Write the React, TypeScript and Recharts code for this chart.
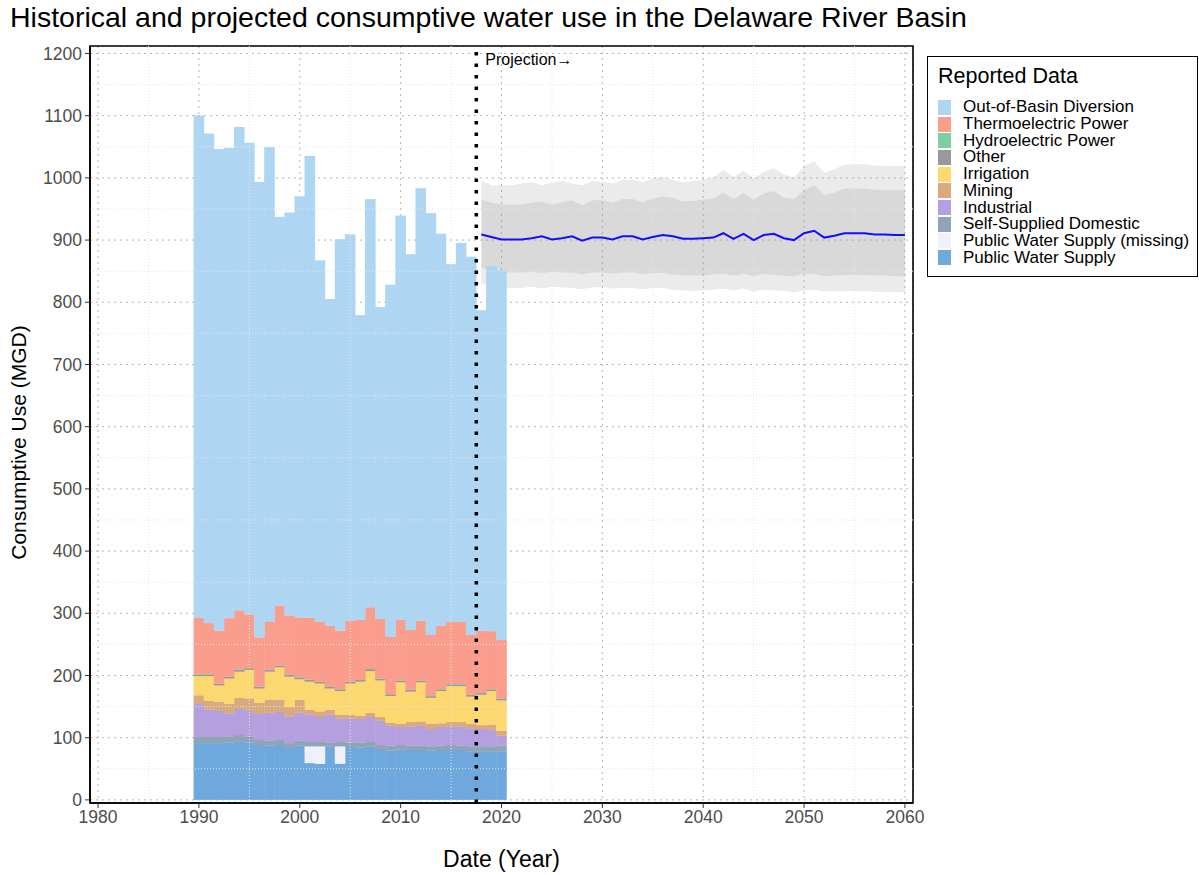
import React from 'react';
import { ComposedChart, Bar, Area, Line, XAxis, YAxis, CartesianGrid, ReferenceLine, ReferenceArea, Label } from 'recharts';

// ---------- Reported (historical) data, MGD ----------
const histYears = [1990,1991,1992,1993,1994,1995,1996,1997,1998,1999,2000,2001,2002,2003,2004,2005,2006,2007,2008,2009,2010,2011,2012,2013,2014,2015,2016,2017,2018,2019,2020];
const publicWaterSupply = [91,91,91,92,94,92,88,87,88,83,87,59,58,86,58,85,84,86,80,79,81,80,80,79,80,80,80,78,78,78,78];
const publicWaterSupplyMissing = [0,0,0,0,0,0,0,0,0,0,0,27,28,0,28,0,0,0,0,0,0,0,0,0,0,0,0,0,0,0,0];
const selfSuppliedDomestic = [10,10,10,10,10,10,8,8,8,8,8,7,7,6,7,7,8,7,8,8,7,7,7,7,7,8,7,8,8,8,9];
const industrial = [53,44,42,37,42,41,42,45,45,43,45,44,40,45,38,39,38,40,39,32,29,31,32,28,30,30,31,29,28,26,16];
const mining = [14,14,15,15,18,20,18,21,20,15,21,8,9,8,6,6,5,7,6,5,5,7,7,8,6,7,7,7,6,9,8];
const irrigation = [31,40,26,41,42,46,23,45,52,49,33,45,45,34,38,50,55,67,59,43,67,49,63,42,52,58,58,44,49,54,49];
const other = [2.5,2.5,2.5,2.5,3,2.5,2.5,2.5,2.5,2.5,2.5,2.5,2.5,2.5,2.5,2.5,2.5,3,2.5,2.5,2.5,2.5,2.5,2.5,2.5,2.5,2.5,2.5,2.5,2.5,2.5];
const hydroelectric = [0.5,0.5,0.5,0.5,0.5,0.5,0.5,0.5,0.5,0.5,0.5,0.5,0.5,0.5,0.5,0.5,0.5,0.5,0.5,0.5,0.5,0.5,0.5,0.5,0.5,0.5,0.5,0.5,0.5,0.5,0.5];
const thermoelectric = [91,82,85,94,95,86,79,77,96,95,96,100,96,98,94,98,96,99,96,92,97,96,96,98,102,100,100,96,100,93,94];
const outOfBasin = [807,787,774,756,777,758,732,763,625,648,677,742,581,525,629,621,490,656,501,566,650,604,695,678,630,575,609,608,515,587,594];

// ---------- Projection ----------
const projYears = [2018,2019,2020,2021,2022,2023,2024,2025,2026,2027,2028,2029,2030,2031,2032,2033,2034,2035,2036,2037,2038,2039,2040,2041,2042,2043,2044,2045,2046,2047,2048,2049,2050,2051,2052,2053,2054,2055,2056,2057,2058,2059,2060];
const projMedian = [909,905,901,901,901,903,906,901,903,906,899,904,904,901,906,906,901,905,908,906,902,902,903,904,911,902,910,900,908,910,903,900,911,915,904,907,911,911,911,909,909,908,908];
const projInnerLow = [856,850,848,848,848,849,847,849,848,848,845,848,848,846,848,848,845,847,847,845,843,843,843,845,846,843,846,842,846,844,843,842,846,846,842,843,844,844,844,843,843,842,842];
const projInnerHigh = [965,960,957,957,957,960,962,957,961,964,956,964,964,960,966,966,961,967,970,968,962,963,965,967,976,966,976,965,975,979,968,966,980,988,972,976,983,983,983,981,980,980,980];
const projOuterLow = [830,825,823,823,823,825,822,825,824,823,821,824,824,822,823,823,821,823,823,820,819,818,819,820,822,819,822,817,820,819,818,816,819,820,817,818,818,818,818,817,817,816,816];
const projOuterHigh = [996,988,988,988,991,993,988,992,995,991,988,994,994,991,997,997,993,999,1001,997,993,995,997,1000,1013,1001,1012,999,1009,1016,1006,1000,1019,1027,1008,1014,1021,1022,1022,1020,1019,1019,1019];

// ---------- Axis ticks ----------
const xTicks = [1980,1990,2000,2010,2020,2030,2040,2050,2060];
const xMinor = [1985,1995,2005,2015,2025,2035,2045,2055];
const yTicks = [0,100,200,300,400,500,600,700,800,900,1000,1100,1200];
const yMinor = [50,150,250,350,450,550,650,750,850,950,1050,1150];
const projectionStart = 2017.5;

const series = [
  { key: 'pws', label: 'Public Water Supply', values: publicWaterSupply, color: '#6FA8DC' },
  { key: 'pwsMissing', label: 'Public Water Supply (missing)', values: publicWaterSupplyMissing, color: '#EEF0FA' },
  { key: 'ssd', label: 'Self-Supplied Domestic', values: selfSuppliedDomestic, color: '#8FA4B5' },
  { key: 'ind', label: 'Industrial', values: industrial, color: '#B4A0DE' },
  { key: 'min', label: 'Mining', values: mining, color: '#D8AA7D' },
  { key: 'irr', label: 'Irrigation', values: irrigation, color: '#FDD871' },
  { key: 'oth', label: 'Other', values: other, color: '#999999' },
  { key: 'hyd', label: 'Hydroelectric Power', values: hydroelectric, color: '#7DCEA0' },
  { key: 'thm', label: 'Thermoelectric Power', values: thermoelectric, color: '#FA9D8C' },
  { key: 'oob', label: 'Out-of-Basin Diversion', values: outOfBasin, color: '#AED6F2' },
];

const rowsByYear: Record<number, any> = {};
const getRow = (y: number) => (rowsByYear[y] = rowsByYear[y] || { year: y });
histYears.forEach((y, i) => {
  const r = getRow(y);
  series.forEach((s) => { r[s.key] = s.values[i]; });
});
projYears.forEach((y, i) => {
  const r = getRow(y);
  r.median = projMedian[i];
  r.inner = [projInnerLow[i], projInnerHigh[i]];
  r.outer = [projOuterLow[i], projOuterHigh[i]];
});
const data = Object.keys(rowsByYear).map(Number).sort((a, b) => a - b).map((y) => rowsByYear[y]);

const FONT = '"Liberation Sans", Arial, sans-serif';

const BarShape = (props: any) => {
  const { x, y, width, height, fill } = props;
  if (!height || height <= 0) return null;
  return <rect x={x - 0.3} y={y - 0.2} width={width + 0.6} height={height + 0.2} fill={fill} />;
};

const YTitle = (props: any) => {
  const vb = props.viewBox || {};
  const cx = (vb.x || 0) + 26;
  const cy = (vb.y || 0) + (vb.height || 0) / 2 + 18;
  return (
    <text x={cx} y={cy} transform={`rotate(-90 ${cx} ${cy})`} textAnchor="middle" fontSize={21} fontFamily={FONT} fill="#000">
      Consumptive Use (MGD)
    </text>
  );
};

const legendOrder = [...series].reverse();

export default function App() {
  return (
    <div style={{ position: 'relative', width: 1199, height: 875, fontFamily: FONT, background: '#fff' }}>
      <style>{'body{margin:0}'}</style>
      <div style={{ position: 'absolute', left: 10, top: 1, fontSize: 28.5, lineHeight: '33px', color: '#000', whiteSpace: 'nowrap' }}>
        Historical and projected consumptive water use in the Delaware River Basin
      </div>
      <ComposedChart
        width={1199}
        height={875}
        data={data}
        margin={{ top: 46, right: 286, bottom: 0, left: 0 }}
        barCategoryGap={0}
        barGap={0}
      >
        <CartesianGrid stroke="#b5b5b5" strokeDasharray="2 4" />
        {xMinor.map((v) => (
          <ReferenceLine key={'xm' + v} x={v} stroke="#e6e6e6" strokeDasharray="1 2" />
        ))}
        {yMinor.map((v) => (
          <ReferenceLine key={'ym' + v} y={v} stroke="#e6e6e6" strokeDasharray="1 2" />
        ))}
        <XAxis
          dataKey="year"
          type="number"
          domain={[1979.2, 2060.8]}
          ticks={xTicks}
          allowDataOverflow
          height={72}
          tickSize={5}
          tickMargin={3}
          axisLine={{ stroke: '#000', strokeWidth: 1.5 }}
          tickLine={{ stroke: '#333' }}
          tick={{ fill: '#4d4d4d', fontSize: 17.5, fontFamily: FONT }}
        >
          <Label value="Date (Year)" position="insideBottom" offset={8} style={{ fontSize: 23, fill: '#000', fontFamily: FONT }} />
        </XAxis>
        <YAxis
          type="number"
          domain={[-5, 1212]}
          ticks={yTicks}
          allowDataOverflow
          width={90}
          tickSize={5}
          tickMargin={3}
          axisLine={{ stroke: '#000', strokeWidth: 1.5 }}
          tickLine={{ stroke: '#333' }}
          tick={{ fill: '#4d4d4d', fontSize: 17.5, fontFamily: FONT }}
        >
          <Label content={YTitle} />
        </YAxis>
        {series.map((s) => (
          <Bar key={s.key} dataKey={s.key} stackId="hist" fill={s.color} isAnimationActive={false} shape={BarShape} />
        ))}
        <Area dataKey="outer" type="linear" stroke="none" fill="#9a9a9a" fillOpacity={0.2} isAnimationActive={false} connectNulls={false} />
        <Area dataKey="inner" type="linear" stroke="none" fill="#9a9a9a" fillOpacity={0.22} isAnimationActive={false} connectNulls={false} />
        <Line dataKey="median" type="linear" stroke="#1010ff" strokeWidth={2} dot={false} isAnimationActive={false} connectNulls={false} />
        <ReferenceLine
          x={projectionStart}
          stroke="#000"
          strokeWidth={3.5}
          strokeDasharray="3.5 8"
          label={(p: any) => {
            const vb = p.viewBox || {};
            return (
              <text x={(vb.x || 0) + 9} y={(vb.y || 0) + 19} fontSize={16} fontFamily={FONT} fill="#000">
                Projection→
              </text>
            );
          }}
        />
        <ReferenceArea x1={1979.2} x2={2060.8} y1={-5} y2={1212} fill="none" stroke="#000" strokeWidth={1.6} ifOverflow="visible" />
      </ComposedChart>
      <div
        style={{
          position: 'absolute',
          left: 927,
          top: 56,
          width: 271,
          height: 221,
          border: '1px solid #000',
          boxSizing: 'border-box',
          background: '#fff',
        }}
      >
        <div style={{ position: 'absolute', left: 10, top: 7, fontSize: 21.5, color: '#000', whiteSpace: 'nowrap' }}>Reported Data</div>
        {legendOrder.map((s, i) => (
          <div key={s.key} style={{ position: 'absolute', left: 10, top: 42 + i * 16.7, height: 16.7, display: 'flex', alignItems: 'center' }}>
            <div style={{ width: 13, height: 15, background: s.color }} />
            <div style={{ marginLeft: 12, fontSize: 17, color: '#000', whiteSpace: 'nowrap', lineHeight: '16px' }}>{s.label}</div>
          </div>
        ))}
      </div>
    </div>
  );
}
